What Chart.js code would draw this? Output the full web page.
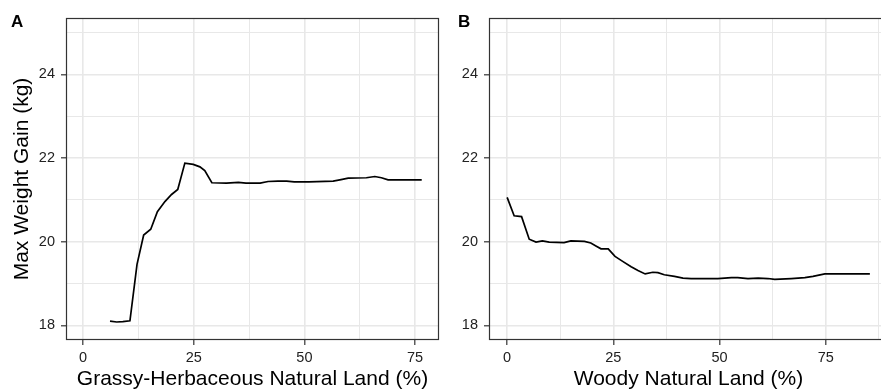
<!DOCTYPE html>
<html>
<head>
<meta charset="utf-8">
<script src="https://cdn.jsdelivr.net/npm/chart.js@4.4.1/dist/chart.umd.min.js"></script>
<style>
  body { margin: 0; background: #fff; overflow: hidden; width: 881px; height: 390px; position: relative; }
  .panel { position: absolute; top: 0; height: 390px; }
  .tag { position: absolute; top: 13px; font: bold 17px 'Liberation Sans', Arial, sans-serif; line-height: 17px; color: #000; }
</style>
</head>
<body>
<div class="panel" id="panelA" style="left:0;width:440px"><canvas id="chartA" width="440" height="390"></canvas></div>
<div class="panel" id="panelB" style="left:440px;width:448px"><canvas id="chartB" width="448" height="390"></canvas></div>
<div class="tag" style="left:11px">A</div>
<div class="tag" style="left:458px">B</div>
<script>
// panel A: grassy-herbaceous natural land
var grassyX = [6.1, 7.6, 9.0, 10.6, 12.2, 13.7, 15.3, 16.8, 18.5, 20.0, 21.4, 23.0, 24.9, 26.4, 27.5, 29.1,
  32.4, 35.1, 36.8, 40.0, 41.8, 44.0, 46.0, 47.7, 51.0, 56.5, 58.0, 59.9, 64.0, 65.9, 67.4, 68.9, 72.0, 76.5];
var grassyY = [18.10, 18.08, 18.09, 18.11, 19.46, 20.16, 20.30, 20.72, 20.96, 21.13, 21.25, 21.88, 21.85, 21.79, 21.70, 21.41,
  21.40, 21.42, 21.40, 21.40, 21.44, 21.45, 21.45, 21.43, 21.43, 21.45, 21.48, 21.52, 21.53, 21.56, 21.53, 21.48, 21.48, 21.48];

// panel B: woody natural land
var woodyX = [0, 1.65, 3.4, 5.2, 6.8, 8.3, 9.9, 13.4, 15.0, 18.2, 19.7, 20.9, 22.1, 23.8, 25.4, 27.2, 29.2, 30.8, 32.5,
  34.3, 35.5, 37.0, 39.4, 41.4, 43.3, 49.6, 52.8, 54.3, 56.7, 59.1, 61.4, 63.0, 66.9, 70.1, 72.0, 74.8, 85.4];
var woodyY = [21.06, 20.62, 20.60, 20.06, 19.99, 20.02, 19.99, 19.98, 20.02, 20.01, 19.97, 19.90, 19.83, 19.83, 19.65, 19.53, 19.40, 19.31, 19.23,
  19.27, 19.26, 19.21, 19.17, 19.13, 19.12, 19.12, 19.14, 19.14, 19.12, 19.13, 19.12, 19.10, 19.12, 19.14, 19.17, 19.23, 19.23];

var xTicksA = [0, 12.5, 25, 37.5, 50, 62.5, 75];
var xTicksB = [0, 12.5, 25, 37.5, 50, 62.5, 75, 87.5];
var yTicks = [18, 19, 20, 21, 22, 23, 24, 25];

var FONT = "'Liberation Sans', Arial, sans-serif";

// panel frame like ggplot theme_bw
const framePlugin = {
  id: 'frame',
  afterDatasetsDraw(chart) {
    const a = chart.chartArea;
    const ctx = chart.ctx;
    ctx.save();
    ctx.strokeStyle = '#333333';
    ctx.lineWidth = 1.2;
    ctx.strokeRect(a.left + 0.5, a.top + 0.5, a.right - a.left - 1, a.bottom - a.top - 1);
    ctx.restore();
  },
};

function toPoints(xs, ys) {
  return xs.map((x, i) => ({x: x, y: ys[i]}));
}

function gridOpts(isMajor) {
  return {
    color: '#e8e8e8',
    lineWidth: (c) => (c.tick && isMajor(c.tick.value) ? 1.6 : 1.0),
    tickColor: (c) => (c.tick && isMajor(c.tick.value) ? '#333333' : 'rgba(0,0,0,0)'),
    tickLength: 5,
    tickWidth: 1.2,
  };
}

function makeChart(id, xs, ys, opts) {
  const majorX = (v) => v % 25 === 0;
  const majorY = (v) => v % 2 === 0;
  return new Chart(document.getElementById(id), {
    type: 'line',
    data: {
      datasets: [{
        data: toPoints(xs, ys),
        borderColor: '#000000',
        borderWidth: 1.7,
        pointRadius: 0,
        tension: 0,
        fill: false,
      }],
    },
    options: {
      responsive: false,
      animation: false,
      layout: {padding: {top: 18, right: opts.padRight, left: 0, bottom: 0}},
      plugins: {legend: {display: false}, tooltip: {enabled: false}},
      scales: {
        x: {
          type: 'linear',
          min: opts.xMin,
          max: opts.xMax,
          afterBuildTicks: (s) => { s.ticks = opts.xTicks.map((v) => ({value: v})); },
          afterFit: (s) => { s.height = 50; },
          grid: gridOpts(majorX),
          border: {display: false},
          ticks: {
            autoSkip: false,
            maxRotation: 0,
            padding: 4,
            color: '#222222',
            font: {family: FONT, size: 14.5},
            callback: (v) => (majorX(v) ? String(v) : ''),
          },
          title: {
            display: true,
            text: opts.xTitle,
            color: '#000000',
            font: {family: FONT, size: 21, lineHeight: 1},
            padding: {top: 0, bottom: 0},
          },
        },
        y: {
          min: 17.65,
          max: 25.35,
          afterBuildTicks: (s) => { s.ticks = yTicks.map((v) => ({value: v})); },
          afterFit: (s) => { s.width = opts.yWidth; },
          grid: gridOpts(majorY),
          border: {display: false},
          ticks: {
            autoSkip: false,
            padding: 6,
            color: '#222222',
            font: {family: FONT, size: 14.5},
            callback: (v) => (majorY(v) ? String(v) : ''),
          },
          title: {
            display: opts.yTitle !== '',
            text: opts.yTitle,
            color: '#000000',
            font: {family: FONT, size: 21, lineHeight: 1},
            padding: {top: 12, bottom: 0},
          },
        },
      },
    },
    plugins: [framePlugin],
  });
}

makeChart('chartA', grassyX, grassyY, {
  xMin: -3.84, xMax: 80.4, xTicks: xTicksA, padRight: 1, yWidth: 66,
  xTitle: 'Grassy-Herbaceous Natural Land (%)', yTitle: 'Max Weight Gain (kg)',
});
makeChart('chartB', woodyX, woodyY, {
  xMin: -4.27, xMax: 89.67, xTicks: xTicksB, padRight: 0, yWidth: 49,
  xTitle: 'Woody Natural Land (%)', yTitle: '',
});
</script>
</body>
</html>
